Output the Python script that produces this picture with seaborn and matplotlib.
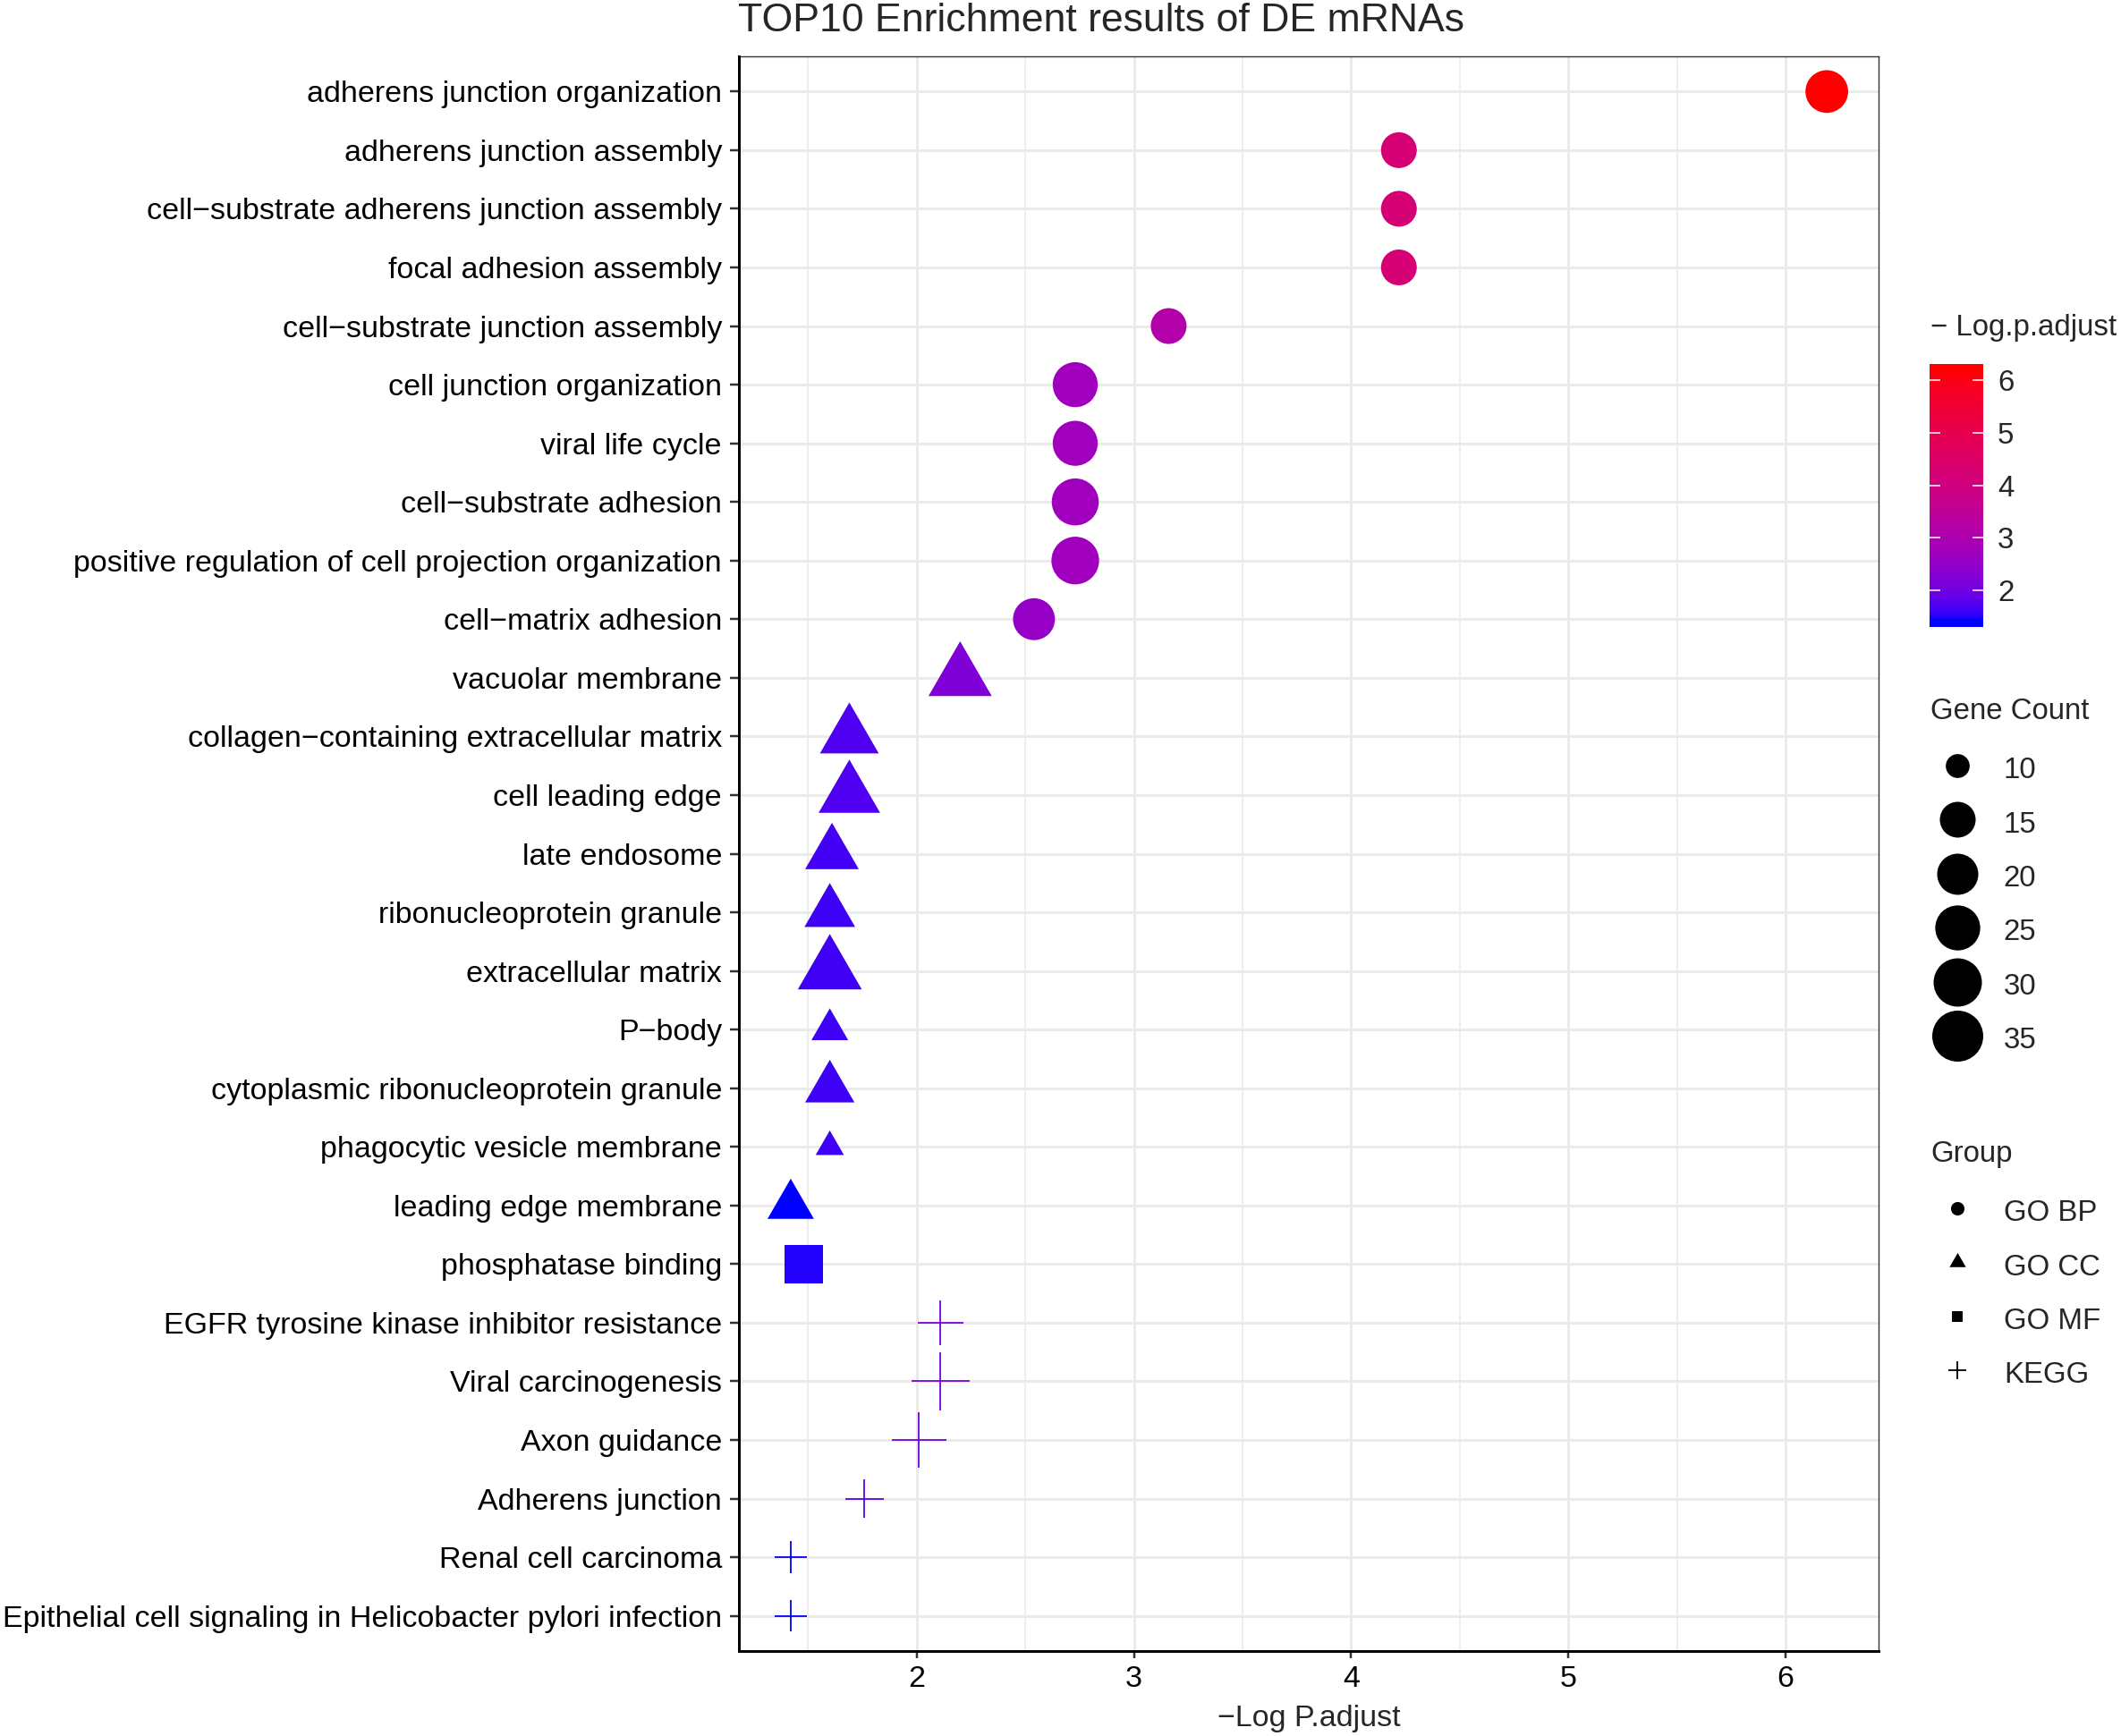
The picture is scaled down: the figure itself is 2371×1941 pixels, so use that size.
import numpy as np
import pandas as pd
import matplotlib
matplotlib.use("Agg")
import matplotlib.pyplot as plt
import seaborn as sns
from matplotlib.colors import ListedColormap, Normalize
from matplotlib.path import Path
from matplotlib.lines import Line2D

# ---------------- data ----------------
terms = [
    "adherens junction organization",
    "adherens junction assembly",
    "cell\u2212substrate adherens junction assembly",
    "focal adhesion assembly",
    "cell\u2212substrate junction assembly",
    "cell junction organization",
    "viral life cycle",
    "cell\u2212substrate adhesion",
    "positive regulation of cell projection organization",
    "cell\u2212matrix adhesion",
    "vacuolar membrane",
    "collagen\u2212containing extracellular matrix",
    "cell leading edge",
    "late endosome",
    "ribonucleoprotein granule",
    "extracellular matrix",
    "P\u2212body",
    "cytoplasmic ribonucleoprotein granule",
    "phagocytic vesicle membrane",
    "leading edge membrane",
    "phosphatase binding",
    "EGFR tyrosine kinase inhibitor resistance",
    "Viral carcinogenesis",
    "Axon guidance",
    "Adherens junction",
    "Renal cell carcinoma",
    "Epithelial cell signaling in Helicobacter pylori infection",
]
neg_log_padj = [6.19, 4.22, 4.22, 4.22, 3.16, 2.73, 2.73, 2.73, 2.73, 2.54,
                2.20, 1.69, 1.69, 1.61, 1.60, 1.60, 1.60, 1.60, 1.60, 1.42,
                1.48,
                2.11, 2.11, 2.01, 1.76, 1.42, 1.42]
gene_count = [22, 15, 15, 15, 15, 25, 25, 28, 29, 21,
              30, 25, 28, 20, 18, 31, 12, 17, 9, 15,
              24,
              14, 22, 19, 12, 10, 10]
group = ["GO BP"] * 10 + ["GO CC"] * 10 + ["GO MF"] + ["KEGG"] * 6
group_levels = ["GO BP", "GO CC", "GO MF", "KEGG"]
size_breaks = [10, 15, 20, 25, 30, 35]

df = pd.DataFrame({
    "term": pd.Categorical(terms, categories=terms, ordered=True),
    "neglogp": neg_log_padj,
    "count": gene_count,
    "group": group,
})

# ---------------- styling ----------------
W, H, DPI = 2371, 1941, 200
PX = 72.0 / DPI  # points per pixel

sns.set_style("white")
plt.rcParams["font.family"] = ["Liberation Sans", "DejaVu Sans"]

FS_AX = 34 * PX
FS_LEG = 33 * PX
FS_TITLE = 44.7 * PX


def srgb_to_lab(rgb):
    rgb = np.asarray(rgb, float)
    lin = np.where(rgb <= 0.04045, rgb / 12.92, ((rgb + 0.055) / 1.055) ** 2.4)
    M = np.array([[0.4124564, 0.3575761, 0.1804375],
                  [0.2126729, 0.7151522, 0.0721750],
                  [0.0193339, 0.1191920, 0.9503041]])
    xyz = M @ lin / np.array([0.95047, 1.0, 1.08883])
    d = 6 / 29
    f = np.where(xyz > d ** 3, np.cbrt(xyz), xyz / (3 * d * d) + 4 / 29)
    return np.array([116 * f[1] - 16, 500 * (f[0] - f[1]), 200 * (f[1] - f[2])])


def lab_to_srgb(lab):
    L, a, b = lab
    fy = (L + 16) / 116
    fx = fy + a / 500
    fz = fy - b / 200
    d = 6 / 29
    f = np.array([fx, fy, fz])
    xyz = np.where(f > d, f ** 3, 3 * d * d * (f - 4 / 29)) * np.array([0.95047, 1.0, 1.08883])
    Minv = np.array([[3.2404542, -1.5371385, -0.4985314],
                     [-0.9692660, 1.8760108, 0.0415560],
                     [0.0556434, -0.2040259, 1.0572252]])
    lin = np.clip(Minv @ xyz, 0, 1)
    rgb = np.where(lin <= 0.0031308, 12.92 * lin, 1.055 * lin ** (1 / 2.4) - 0.055)
    return np.clip(rgb, 0, 1)


lab_lo = srgb_to_lab([0, 0, 1])
lab_hi = srgb_to_lab([1, 0, 0])
cmap = ListedColormap([lab_to_srgb(lab_lo + t * (lab_hi - lab_lo)) for t in np.linspace(0, 1, 256)])

vmin, vmax = min(neg_log_padj), max(neg_log_padj)
norm = Normalize(vmin, vmax)

# size scale (core diameter in px as a function of gene count)
SIZE_KEYS = [9, 10, 15, 20, 25, 30, 35]
CORE_PX = [23.5, 25.2, 38.5, 44.5, 48.8, 52.5, 55.5]


def core_px(c):
    return float(np.interp(c, SIZE_KEYS, CORE_PX))


tri_path = Path([(0, 1.555), (1.347, -0.7775), (-1.347, -0.7775), (0, 1.555)],
                [Path.MOVETO, Path.LINETO, Path.LINETO, Path.CLOSEPOLY])
marker_of = {"GO BP": "o", "GO CC": tri_path, "GO MF": "s", "KEGG": "+"}
scale_of = {"GO BP": (1.0, 1.5), "GO CC": (1.555, 0.0), "GO MF": (0.886, 0.0), "KEGG": (1.414, 0.0)}
CROSS_LW = 1.8 * PX

fig = plt.figure(figsize=(W / DPI, H / DPI), dpi=DPI)
ax = fig.add_axes([826 / W, 1 - 1846 / H, (2100 - 826) / W, (1846 - 63) / H])

for g in group_levels:
    sub = df[df["group"] == g]
    k, add = scale_of[g]
    sizes = {c: ((k * core_px(c) + add) * PX) ** 2 for c in sub["count"].unique()}
    kws = dict(linewidth=0, edgecolor="none") if g != "KEGG" else dict(linewidth=CROSS_LW)
    sns.scatterplot(data=sub, x="neglogp", y="term", hue="neglogp", hue_norm=norm,
                    palette=cmap, size="count", sizes=sizes, marker=marker_of[g],
                    legend=False, ax=ax, zorder=3, **kws)

# axes limits (ggplot-style expansion)
rng = vmax - vmin
ax.set_xlim(vmin - 0.05 * rng, vmax + 0.05 * rng)
ax.set_ylim(len(terms) - 0.4, -0.6)

major = np.arange(np.ceil(vmin), np.floor(vmax) + 1)
ax.set_xticks(major)
ax.set_xticks(np.arange(np.ceil(vmin * 2) / 2, vmax + 0.3, 0.5), minor=True)
ax.set_yticks(range(len(terms)))
ax.set_yticklabels(terms)
ax.set_xticklabels([f"{int(v)}" for v in major])

ax.grid(which="major", axis="both", color="#EBEBEB", linewidth=3 * PX, zorder=0)
ax.grid(which="minor", axis="x", color="#EBEBEB", linewidth=1.6 * PX, zorder=0)
ax.set_axisbelow(True)

for s in ["top", "right"]:
    ax.spines[s].set_color("#333333")
    ax.spines[s].set_linewidth(1.4 * PX)
for s in ["left", "bottom"]:
    ax.spines[s].set_color("black")
    ax.spines[s].set_linewidth(3 * PX)
    ax.spines[s].set_zorder(5)

ax.tick_params(axis="y", which="major", length=10 * PX, width=2.5 * PX, color="#333333",
               pad=9 * PX, labelsize=FS_AX, labelcolor="black", left=True)
ax.tick_params(axis="x", which="major", length=8 * PX, width=2.5 * PX, color="#333333",
               pad=8 * PX, labelsize=FS_AX, labelcolor="black", bottom=True)
ax.tick_params(axis="x", which="minor", length=0)
ax.set_ylabel("")
ax.set_xlabel("\u2212Log P.adjust", fontsize=FS_AX, labelpad=13 * PX)

fig.text(825 / W, 1 - 35 / H, "TOP10 Enrichment results of DE mRNAs",
         fontsize=FS_TITLE, ha="left", va="baseline")

# ---------------- colour bar legend ----------------
half_bin = rng / 38
lo, hi = vmin - half_bin, vmax + half_bin
cax = fig.add_axes([2157 / W, 1 - 701 / H, 60 / W, (701 - 407) / H])
grad = np.linspace(lo, hi, 400).reshape(-1, 1)
cax.imshow(grad, cmap=cmap, norm=norm, aspect="auto", origin="lower", extent=(0, 1, lo, hi))
cax.set_xlim(0, 1)
cax.set_ylim(lo, hi)
cax.hlines(major, 0, 0.2, color="white", linewidth=1.5 * PX)
cax.hlines(major, 0.8, 1, color="white", linewidth=1.5 * PX)
cax.set_xticks([])
cax.yaxis.tick_right()
cax.set_yticks(major)
cax.set_yticklabels([f"{int(v)}" for v in major])
cax.tick_params(axis="y", length=0, pad=16 * PX, labelsize=FS_LEG)
for s in cax.spines.values():
    s.set_visible(False)
fig.text(2158 / W, 1 - 366 / H, "\u2212 Log.p.adjust", fontsize=FS_LEG, ha="left", va="center")

# ---------------- size legend ----------------
fig.text(2158 / W, 1 - 795 / H, "Gene Count", fontsize=FS_LEG, ha="left", va="center")
size_handles = [Line2D([], [], linestyle="none", marker="o", color="black", markeredgewidth=0,
                       markersize=(core_px(v) + 1.5) * PX) for v in size_breaks]
leg_kw = dict(loc="upper left", frameon=False, fontsize=FS_LEG, borderpad=0, borderaxespad=0,
              handlelength=1.8, handletextpad=0.68, handleheight=1.2, labelspacing=0.77)
leg1 = fig.legend(size_handles, [str(v) for v in size_breaks],
                  bbox_to_anchor=(2158 / W, 1 - 842 / H), **leg_kw)

# ---------------- group legend ----------------
fig.text(2158 / W, 1 - 1291 / H, "Group", fontsize=FS_LEG, ha="left", va="center")
KEY_D = 13.6
grp_handles = []
for g in group_levels:
    k, add = scale_of[g]
    grp_handles.append(Line2D([], [], linestyle="none", marker=marker_of[g], color="black",
                              markeredgewidth=(CROSS_LW if g == "KEGG" else 0),
                              markersize=(k * KEY_D + add) * PX))
leg2 = fig.legend(grp_handles, group_levels, bbox_to_anchor=(2158 / W, 1 - 1337 / H), **leg_kw)

fig.savefig("out.png", dpi=DPI)
